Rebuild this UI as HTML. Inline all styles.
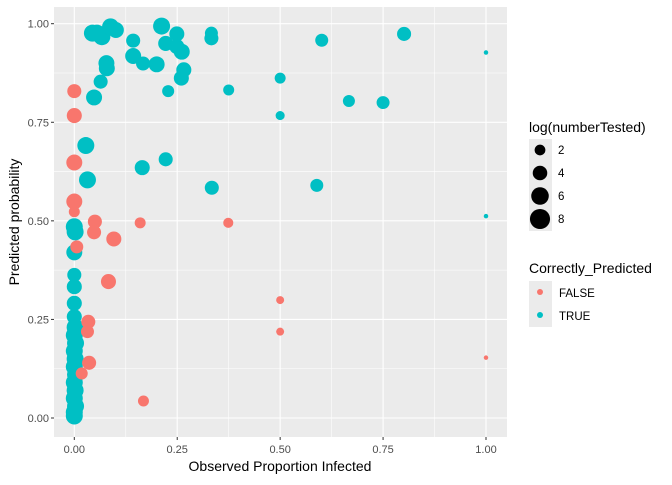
<!DOCTYPE html>
<html><head><meta charset="utf-8"><style>
body{margin:0;background:#fff;font-family:"Liberation Sans",sans-serif}
svg text{font-family:"Liberation Sans",sans-serif}
</style></head><body>
<svg id="chart" width="672" height="480" viewBox="0 0 672 480">
<rect x="54" y="7" width="453" height="430" fill="#EBEBEB"/>
<g id="grid"></g><g id="pts"></g><g id="axes"></g>
<text x="280" y="471" text-anchor="middle" font-size="14" fill="#000">Observed Proportion Infected</text>
<text transform="translate(19,222) rotate(-90)" text-anchor="middle" font-size="14" fill="#000">Predicted probability</text>
<g>
<text x="529" y="132" font-size="14">log(numberTested)</text>
<rect x="529" y="139" width="23" height="92" fill="#EBEBEB"/>
<g id="sizeKeys"></g>
</g>
<g>
<text x="529" y="273" font-size="14">Correctly_Predicted</text>
<rect x="529" y="281" width="23" height="46" fill="#EBEBEB"/>
<circle cx="540" cy="292" r="3" fill="#F8766D"/>
<text x="559" y="297" font-size="11.5">FALSE</text>
<circle cx="540" cy="315" r="3" fill="#00BFC4"/>
<text x="559" y="320" font-size="11.5">TRUE</text>
</g>
</svg>
<script>
const xTicks=[0,0.25,0.5,0.75,1];
const yTicks=[0,0.25,0.5,0.75,1];
const tickLabels=["0.00","0.25","0.50","0.75","1.00"];
const sizeLegendValues=[2,4,6,8];
const trueX=[.044,.067,.088,.101,.055,.143,.143,.167,.200,.212,.249,.222,.249,.261,.266,.260,.078,.079,.064,.048,.228,.333,.333,.375,.028,.032,.165,.222,.334,.601,.801,1,.667,.750,.589,1,.5,.5,
0,0.002,0,0,0,0,0,0.002,0,0.003,0,0.002,0,0.003,0,0.002,0,0.003,0,0];
const trueY=[.976,.967,.992,.984,.976,.957,.918,.899,.897,.994,.974,.950,.942,.929,.883,.862,.900,.887,.853,.813,.829,.976,.963,.832,.691,.604,.635,.656,.584,.958,.974,.927,.804,.800,.590,.512,.862,.767,
.485,.472,.420,.363,.333,.291,.257,.23,.21,.19,.17,.15,.13,.11,.09,.07,.05,.03,.015,.005];
const trueSize=[5.6,5.6,5.6,4.9,5.6,3.7,4.9,3.7,4.9,5.6,4.3,4.3,4.3,4.9,4.3,4.3,4.9,4.9,3.7,4.9,2.6,3.1,3.7,2.1,5.6,5.6,4.3,3.7,3.7,3.1,3.7,0,2.6,3.1,3.1,0,2.1,1.3,
5.6,5.6,4.9,3.7,4.3,4.3,4.3,5.6,5.6,5.6,5.6,5.6,5.6,5.6,5.6,5.6,5.6,5.6,5.6,5.6];
const falseX=[0,0,0,0,0,.006,.050,.048,.096,.083,.034,.032,.036,.018,.160,.374,.5,.5,.168,1];
const falseY=[.829,.767,.648,.549,.523,.434,.498,.471,.454,.346,.244,.219,.140,.113,.495,.495,.299,.219,.043,.153];
const falseSize=[3.7,4.3,4.9,4.9,2.1,3.1,3.7,3.7,4.3,4.3,3.7,3.1,3.7,2.6,2.1,1.7,0.9,0.9,2.1,0];
const NS="http://www.w3.org/2000/svg";
const sx=v=>74.3+411.7*v, sy=v=>418-394.3*v, sr=v=>Math.sqrt(5+12*v);
function mk(t,a,p){const e=document.createElementNS(NS,t);for(const k in a)e.setAttribute(k,a[k]);p.appendChild(e);return e;}
const grid=document.getElementById('grid'),axes=document.getElementById('axes'),pts=document.getElementById('pts');
for(let i=0;i<xTicks.length-1;i++){const m=(xTicks[i]+xTicks[i+1])/2;
 const g=mk('line',{x1:sx(m),x2:sx(m),y1:7,y2:437,stroke:'#fff','stroke-width':0.55},grid);
 }
for(let i=0;i<yTicks.length-1;i++){const m=(yTicks[i]+yTicks[i+1])/2;
 const g=mk('line',{x1:54,x2:507,y1:sy(m),y2:sy(m),stroke:'#fff','stroke-width':0.55},grid);
 }
xTicks.forEach((v,i)=>{const g=mk('line',{x1:sx(v),x2:sx(v),y1:7,y2:437,stroke:'#fff','stroke-width':1.1},grid);
 
 const t=mk('line',{x1:sx(v),x2:sx(v),y1:437,y2:440,stroke:'#333','stroke-width':1},axes);
 
 const l=mk('text',{x:sx(v),y:453,'text-anchor':'middle','font-size':11,fill:'#4D4D4D'},axes);l.textContent=tickLabels[i];
 });
yTicks.forEach((v,i)=>{const g=mk('line',{x1:54,x2:507,y1:sy(v),y2:sy(v),stroke:'#fff','stroke-width':1.1},grid);
 
 const t=mk('line',{x1:51,x2:54,y1:sy(v),y2:sy(v),stroke:'#333','stroke-width':1},axes);
 
 const l=mk('text',{x:49,y:sy(v)+4,'text-anchor':'end','font-size':11,fill:'#4D4D4D'},axes);l.textContent=tickLabels[i];
 });
trueX.forEach((x,i)=>{const c=mk('circle',{cx:sx(x),cy:sy(trueY[i]),r:sr(trueSize[i]),fill:'#00BFC4'},pts);
 });
falseX.forEach((x,i)=>{const c=mk('circle',{cx:sx(x),cy:sy(falseY[i]),r:sr(falseSize[i]),fill:'#F8766D'},pts);
 });
const sk=document.getElementById('sizeKeys');
sizeLegendValues.forEach((v,i)=>{const cy=150+i*23;
 const c=mk('circle',{cx:540,cy:cy,r:sr(v),fill:'#000'},sk);
 
 const t=mk('text',{x:558,y:cy+4,'font-size':11.5},sk);t.textContent=v;
 });
</script>
</body></html>
